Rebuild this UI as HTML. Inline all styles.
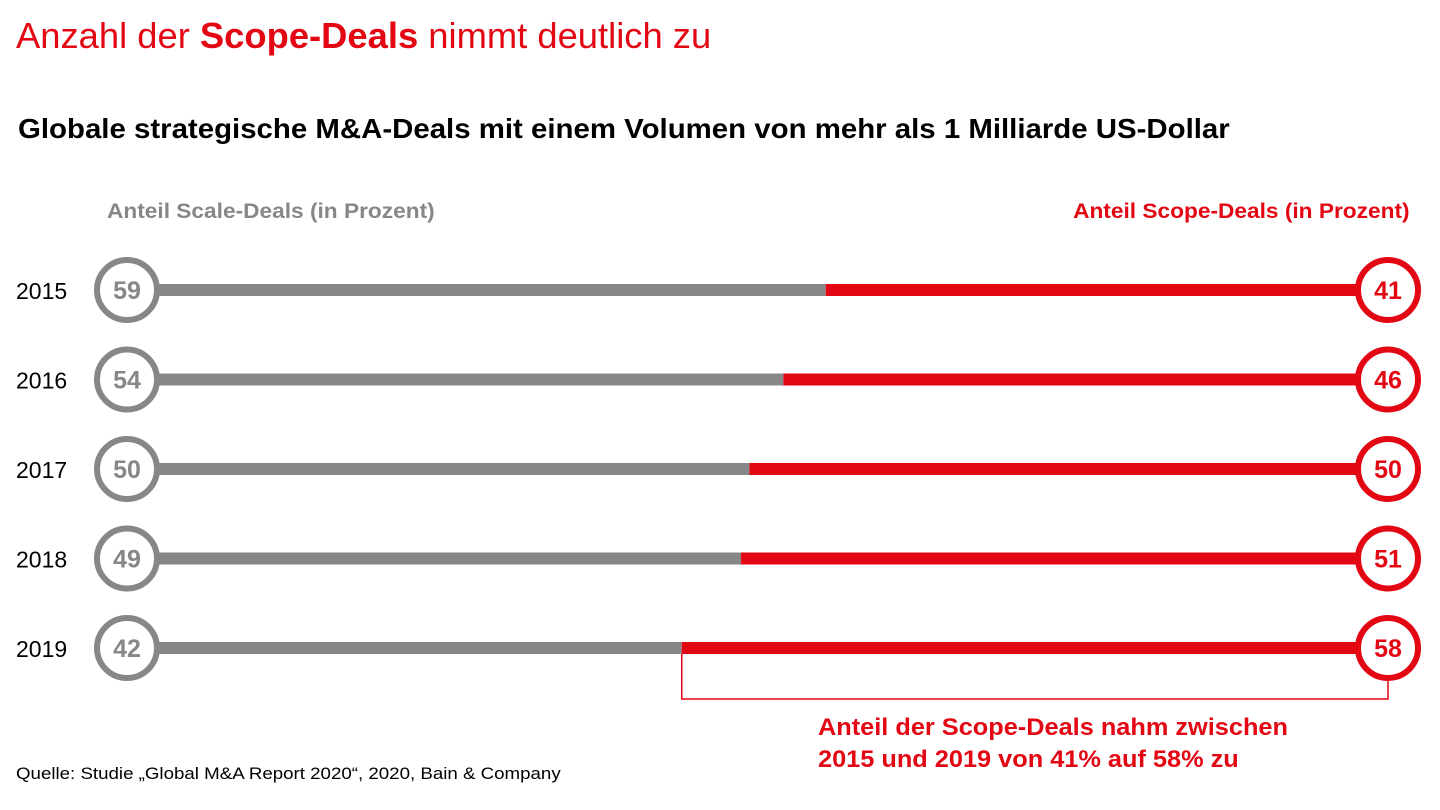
<!DOCTYPE html>
<html><head><meta charset="utf-8"><style>
body{margin:0;width:1440px;height:810px;background:#fff;overflow:hidden;font-family:"Liberation Sans",sans-serif;position:relative}
.t{position:absolute;white-space:nowrap;transform-origin:0 0}
</style></head><body>
<div class="t" style="left:16px;top:15px;font-size:36px;color:#e30613;transform:scaleX(1.01)">Anzahl der <b>Scope-Deals</b> nimmt deutlich zu</div>
<div class="t" style="left:18px;top:113px;font-size:28px;font-weight:bold;color:#000;transform:scaleX(1.05)">Globale strategische M&amp;A-Deals mit einem Volumen von mehr als 1 Milliarde US-Dollar</div>
<div class="t" style="left:107px;top:200px;font-size:21px;font-weight:bold;color:#878787;transform:scaleX(1.08)">Anteil Scale-Deals (in Prozent)</div>
<div class="t" style="right:30px;top:200px;font-size:21px;font-weight:bold;color:#e30613;transform-origin:100% 0;transform:scaleX(1.08)">Anteil Scope-Deals (in Prozent)</div>
<svg id="chart" width="1440" height="810" style="position:absolute;left:0;top:0"></svg>
<div class="t" style="left:818px;top:712px;font-size:24px;font-weight:bold;color:#e30613;line-height:32px;transform:scaleX(1.055)">Anteil der Scope-Deals nahm zwischen<br>2015 und 2019 von 41% auf 58% zu</div>
<div class="t" style="left:16px;top:764px;font-size:17px;color:#000;transform:scaleX(1.1)">Quelle: Studie „Global M&amp;A Report 2020“, 2020, Bain &amp; Company</div>
<script>
const years=["2015","2016","2017","2018","2019"];
const scale=[59,54,50,49,42];
const scope=[41,46,50,51,58];
const svg=document.getElementById('chart');
const NS='http://www.w3.org/2000/svg';
const rowY=i=>290+i*89.5;
const xs=v=>326+8.47*v;
const L=127,R=1388;
function mk(tag,attrs){const e=document.createElementNS(NS,tag);for(const k in attrs)e.setAttribute(k,attrs[k]);svg.appendChild(e);return e;}
years.forEach((yr,i)=>{
  const y=rowY(i),sx=xs(scale[i]);
  const g=mk('line',{x1:L+30,x2:sx,y1:y,y2:y,stroke:'#878787','stroke-width':12});
  
  
  const r=mk('line',{x1:sx,x2:R-30,y1:y,y2:y,stroke:'#e30613','stroke-width':12});
  
  
  const c1=mk('circle',{cx:L,cy:y,r:30,fill:'#fff',stroke:'#878787','stroke-width':6});
  
  
  const c2=mk('circle',{cx:R,cy:y,r:30,fill:'#fff',stroke:'#e30613','stroke-width':6});
  
  
  const t1=mk('text',{x:L,y:y+9,'text-anchor':'middle','font-size':25,'font-weight':'bold',fill:'#878787'});
  t1.textContent=scale[i];
  
  
  const t2=mk('text',{x:R,y:y+9,'text-anchor':'middle','font-size':25,'font-weight':'bold',fill:'#e30613'});
  t2.textContent=scope[i];
  
  
  const yl=mk('text',{x:16,y:y+9,'font-size':23,fill:'#000'});
  yl.textContent=yr;
  
  
});
const last=years.length-1,bx=xs(scale[last]),by=rowY(last);
const br=mk('polyline',{points:`${bx},${by+6} ${bx},${by+51} ${R},${by+51} ${R},${by+31}`,fill:'none',stroke:'#e30613','stroke-width':1.5});


</script>
</body></html>
